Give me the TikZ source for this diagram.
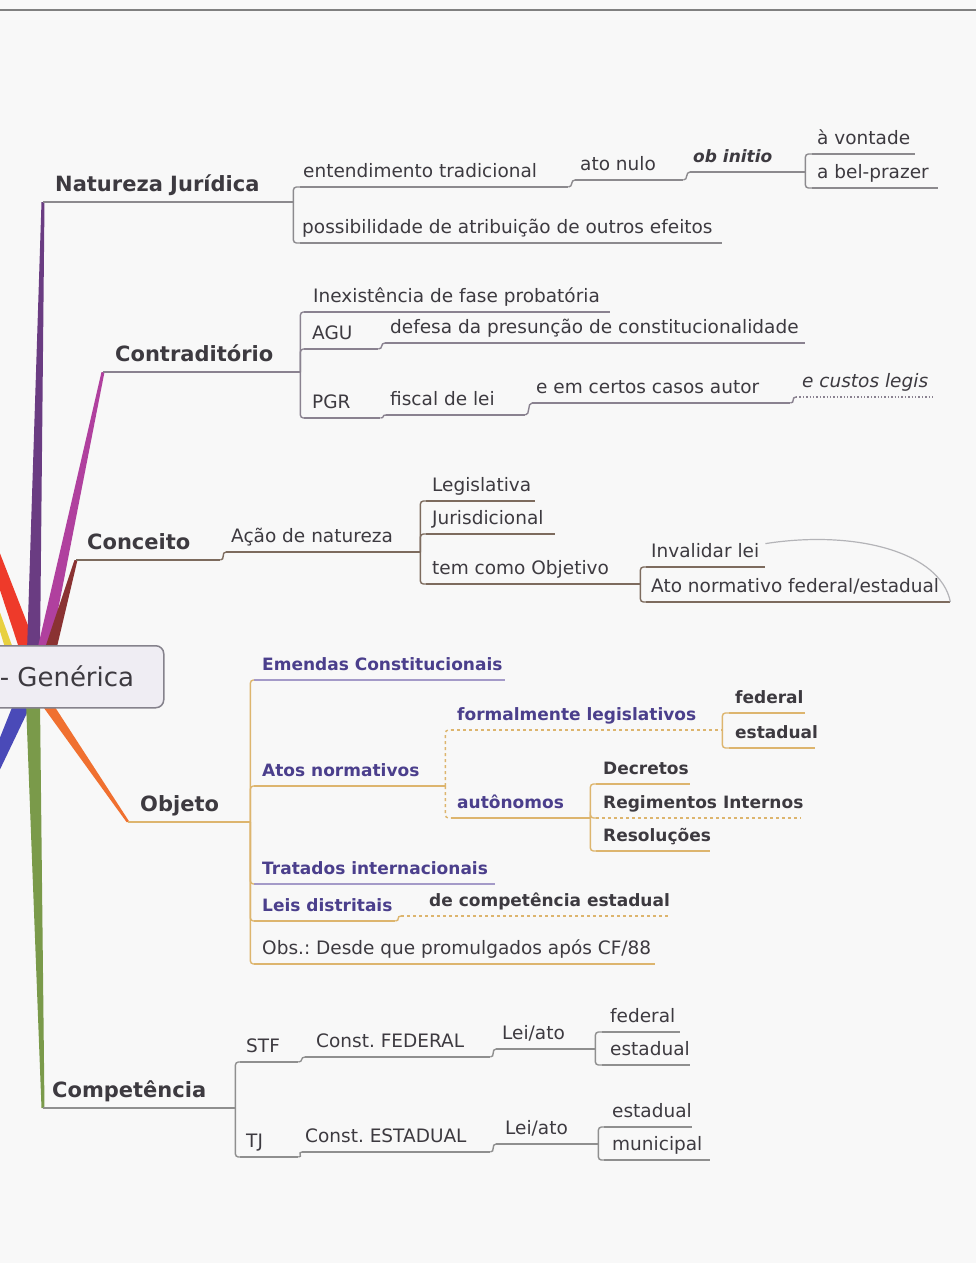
\documentclass[tikz,border=0pt]{standalone}
\usepackage{fontspec}
\setmainfont{DejaVu Sans}
\usetikzlibrary{calc,backgrounds}
\frenchspacing
\definecolor{bg}{HTML}{F8F8F8}
\definecolor{txt}{HTML}{3D3A40}
\definecolor{pur}{HTML}{4B3F8C}
\definecolor{gN}{HTML}{8C8A8E}
\definecolor{gC}{HTML}{8A8290}
\definecolor{gK}{HTML}{7D6B5E}
\definecolor{tanc}{HTML}{DDB56E}
\definecolor{lav}{HTML}{A49AC8}
\definecolor{gP}{HTML}{8F8F8F}
\definecolor{rootf}{HTML}{EFEDF3}
\definecolor{rootd}{HTML}{85828C}
\definecolor{relc}{HTML}{B4B4B8}
\definecolor{cRed}{HTML}{EE3A2A}
\definecolor{cYel}{HTML}{E8D040}
\definecolor{cPur}{HTML}{6A3C82}
\definecolor{cMag}{HTML}{B0409E}
\definecolor{cBrn}{HTML}{8A3232}
\definecolor{cBlu}{HTML}{4A4AB8}
\definecolor{cGrn}{HTML}{7A9A4A}
\definecolor{cOrg}{HTML}{F07030}
\newcommand\fnorm{\fontsize{18.5}{22}\selectfont}
\newcommand\ftitle{\fontsize{21}{25}\selectfont\bfseries}
\newcommand\fobj{\fontsize{17}{20}\selectfont\bfseries}
\newcommand\froot{\fontsize{26}{30}\selectfont}
\newcommand\lbx[3]{\hbox to #1pt{\hskip #2pt\relax #3\hss}}
\tikzset{
  tb/.style={anchor=south west, inner sep=0pt, text height=14pt, text depth=9pt, text=txt, font=\fnorm},
  ttl/.style={tb, font=\ftitle, text height=16pt, text depth=10pt},
  pb/.style={tb, font=\fobj, text=pur},
  ul/.style={append after command={(\tikzlastnode.south west) edge[line width=1.4pt, draw=#1] (\tikzlastnode.south east)}},
  br/.style={draw=#1, line width=1.4pt, rounded corners=3pt},
}
\begin{document}
\begin{tikzpicture}[x=1pt,y=-1pt]
\useasboundingbox (0,0) rectangle (976,1263);
% root
\node[draw=rootd, fill=rootf, rounded corners=8pt, line width=1.5pt, minimum width=183pt, minimum height=62pt, anchor=north west, inner sep=0pt, font=\froot, text=txt] (root) at (-20,645) {\lbx{183}{19}{- Genérica}};
% Natureza Juridica
\node[ttl, ul=gN] (nat) at (43,202) {\lbx{250}{12}{Natureza Jurídica}};
\node[tb, ul=gN] (ent) at (300,187) {\lbx{268}{3}{entendimento tradicional}};
\node[tb, ul=gN] (pos) at (300,243) {\lbx{422}{2}{possibilidade de atribuição de outros efeitos}};
\node[tb, ul=gN] (nulo) at (575,180) {\lbx{108}{5}{ato nulo}};
\node[tb, ul=gN, font=\fobj\itshape] (ini) at (690,172) {\lbx{115}{3}{ob initio}};
\node[tb, ul=gN] (von) at (812,154) {\lbx{103}{5}{à vontade}};
\node[tb, ul=gN] (bel) at (812,188) {\lbx{126}{5}{a bel-prazer}};
% Contraditorio
\node[ttl, ul=gC] (con) at (103,372) {\lbx{197}{12}{Contraditório}};
\node[tb, ul=gC] (inex) at (304,312) {\lbx{306}{9}{Inexistência de fase probatória}};
\node[tb, ul=gC] (agu) at (304,349) {\lbx{74}{8}{AGU}};
\node[tb, ul=gC] (def) at (385,343) {\lbx{420}{5}{defesa da presunção de constitucionalidade}};
\node[tb, ul=gC] (pgr) at (304,418) {\lbx{76}{8}{PGR}};
\node[tb, ul=gC] (fis) at (386,415) {\lbx{139}{4}{fiscal de lei}};
\node[tb, ul=gC] (cert) at (532,403) {\lbx{258}{4}{e em certos casos autor}};
\node[tb, ul={gC, dotted}, font=\fnorm\itshape] (cust) at (796,397) {\lbx{136}{6}{e custos legis}};
% Conceito
\node[ttl, ul=gK] (cct) at (76,560) {\lbx{144}{11}{Conceito}};
\node[tb, ul=gK] (acao) at (226,552) {\lbx{194}{5}{Ação de natureza}};
\node[tb, ul=gK] (leg) at (426,501) {\lbx{109}{6}{Legislativa}};
\node[tb, ul=gK] (jur) at (426,534) {\lbx{129}{6}{Jurisdicional}};
\node[tb, ul=gK] (tem) at (426,584) {\lbx{214}{6}{tem como Objetivo}};
\node[tb, ul=gK] (inv) at (646,567) {\lbx{119}{5}{Invalidar lei}};
\node[tb, ul=gK] (ato) at (646,602) {\lbx{304}{5}{Ato normativo federal/estadual}};
% Objeto
\node[ttl, ul=tanc] (obj) at (128,822) {\lbx{122}{12}{Objeto}};
\node[pb, ul=lav] (emen) at (254,680) {\lbx{251}{8}{Emendas Constitucionais}};
\node[pb, ul=tanc] (atos) at (254,786) {\lbx{191}{8}{Atos normativos}};
\node[pb, ul={tanc,dashed}] (form) at (451,730) {\lbx{271}{6}{formalmente legislativos}};
\node[pb, text=txt, ul=tanc] (fed1) at (729,713) {\lbx{76}{6}{federal}};
\node[pb, text=txt, ul=tanc] (est1) at (729,748) {\lbx{86}{6}{estadual}};
\node[pb, ul=tanc] (aut) at (451,818) {\lbx{139}{6}{autônomos}};
\node[pb, text=txt, ul=tanc] (dec) at (596,784) {\lbx{94}{7}{Decretos}};
\node[pb, text=txt, ul={tanc,dashed}] (reg) at (596,818) {\lbx{204}{7}{Regimentos Internos}};
\node[pb, text=txt, ul=tanc] (res) at (596,851) {\lbx{114}{7}{Resoluções}};
\node[pb, ul=lav] (trat) at (254,884) {\lbx{241}{8}{Tratados internacionais}};
\node[pb, ul=tanc] (leis) at (254,921) {\lbx{141}{8}{Leis distritais}};
\node[pb, text=txt, ul={tanc,dashed}] (comp) at (401,916) {\lbx{267}{28}{de competência estadual}};
\node[tb, ul=tanc] (obs) at (254,964) {\lbx{401}{8}{Obs.: Desde que promulgados após CF/88}};
% Competencia
\node[ttl, ul=gP] (cmp) at (43,1108) {\lbx{192}{9}{Competência}};
\node[tb, ul=gP] (stf) at (240,1062) {\lbx{58}{6}{STF}};
\node[tb, ul=gP] (cfed) at (305,1057) {\lbx{185}{11}{Const. FEDERAL}};
\node[tb, ul=gP] (la1) at (496,1049) {\lbx{99}{6}{Lei/ato}};
\node[tb, ul=gP] (f2) at (602,1032) {\lbx{78}{8}{federal}};
\node[tb, ul=gP] (e2) at (602,1065) {\lbx{88}{8}{estadual}};
\node[tb, ul=gP] (tj) at (240,1157) {\lbx{58}{6}{TJ}};
\node[tb, ul=gP] (cest) at (302,1152) {\lbx{188}{3}{Const. ESTADUAL}};
\node[tb, ul=gP] (la2) at (496,1144) {\lbx{102}{9}{Lei/ato}};
\node[tb, ul=gP] (e3) at (604,1127) {\lbx{88}{8}{estadual}};
\node[tb, ul=gP] (mun) at (604,1160) {\lbx{106}{8}{municipal}};
% connectors: Natureza
\draw[br=gN] (nat.south east) |- (ent.south west);
\draw[br=gN] (nat.south east) |- (pos.south west);
\draw[br=gN] (ent.south east) .. controls +(5,0) and +(-5,0) .. (nulo.south west);
\draw[br=gN] (nulo.south east) .. controls +(5,0) and +(-5,0) .. (ini.south west);
\draw[br=gN] (ini.south east) |- (von.south west);
\draw[br=gN] (ini.south east) |- (bel.south west);
% Contraditorio
\draw[br=gC] (con.south east) |- (inex.south west);
\draw[br=gC] (con.south east) |- (agu.south west);
\draw[br=gC] (con.south east) |- (pgr.south west);
\draw[br=gC] (agu.south east) .. controls +(5,0) and +(-5,0) .. (def.south west);
\draw[br=gC] (pgr.south east) .. controls +(5,0) and +(-5,0) .. (fis.south west);
\draw[br=gC] (fis.south east) .. controls +(5,0) and +(-5,0) .. (cert.south west);
\draw[br=gC] (cert.south east) .. controls +(5,0) and +(-5,0) .. (cust.south west);
% Conceito
\draw[br=gK] (cct.south east) .. controls +(5,0) and +(-5,0) .. (acao.south west);
\draw[br=gK] (acao.south east) |- (leg.south west);
\draw[br=gK] (acao.south east) |- (jur.south west);
\draw[br=gK] (acao.south east) |- (tem.south west);
\draw[br=gK] (tem.south east) |- (inv.south west);
\draw[br=gK] (tem.south east) |- (ato.south west);
\draw[relc, line width=1.2pt] (inv.north east) .. controls +(90,-14) and +(-10,-50) .. (ato.south east);
% Objeto
\draw[br=tanc] (obj.south east) |- (emen.south west);
\draw[br=tanc] (obj.south east) |- (atos.south west);
\draw[br=tanc] (obj.south east) |- (trat.south west);
\draw[br=tanc] (obj.south east) |- (leis.south west);
\draw[br=tanc] (obj.south east) |- (obs.south west);
\draw[br=tanc, dashed] (atos.south east) |- (form.south west);
\draw[br=tanc, dashed] (atos.south east) |- (aut.south west);
\draw[br=tanc] (form.south east) |- (fed1.south west);
\draw[br=tanc] (form.south east) |- (est1.south west);
\draw[br=tanc] (aut.south east) |- (dec.south west);
\draw[br=tanc] (aut.south east) |- (reg.south west);
\draw[br=tanc] (aut.south east) |- (res.south west);
\draw[br=tanc] (leis.south east) .. controls +(5,0) and +(-5,0) .. (comp.south west);
% Competencia
\draw[br=gP] (cmp.south east) |- (stf.south west);
\draw[br=gP] (cmp.south east) |- (tj.south west);
\draw[br=gP] (stf.south east) .. controls +(5,0) and +(-5,0) .. (cfed.south west);
\draw[br=gP] (cfed.south east) .. controls +(5,0) and +(-5,0) .. (la1.south west);
\draw[br=gP] (la1.south east) |- (f2.south west);
\draw[br=gP] (la1.south east) |- (e2.south west);
\draw[br=gP] (tj.south east) .. controls +(5,0) and +(-5,0) .. (cest.south west);
\draw[br=gP] (cest.south east) .. controls +(5,0) and +(-5,0) .. (la2.south west);
\draw[br=gP] (la2.south east) |- (e3.south west);
\draw[br=gP] (la2.south east) |- (mun.south west);
% background and main branches
\begin{pgfonlayer}{background}
\fill[bg] (0,0) rectangle (976,1263);
\draw[gray, line width=2pt] (0,10) -- (976,10);
\coordinate (offY) at (-12,585);
\coordinate (offR) at (-18,520);
\coordinate (offB) at (-22,805);
\fill[cYel] ($(root.north west)+(26,6)$) -- ($(root.north west)+(34,6)$) -- ($(offY)+(2,0)$) -- ($(offY)+(-2,0)$) -- cycle;
\fill[cRed] ($(root.north west)+(40,6)$) -- ($(root.north west)+(58,6)$) -- ($(offR)+(5,0)$) -- ($(offR)+(-5,0)$) -- cycle;
\fill[cBlu] ($(root.south west)+(34,-6)$) -- ($(root.south west)+(52,-6)$) -- ($(offB)+(5,0)$) -- ($(offB)+(-5,0)$) -- cycle;
\fill[cPur] ($(root.north west)+(47,6)$) -- ($(root.north west)+(60,6)$) -- ($(nat.south west)+(1.5,0)$) -- ($(nat.south west)+(-1.5,0)$) -- cycle;
\fill[cMag] ($(root.north west)+(57,6)$) -- ($(root.north west)+(70,6)$) -- ($(con.south west)+(1.5,0)$) -- ($(con.south west)+(-1.5,0)$) -- cycle;
\fill[cBrn] ($(root.north west)+(64,6)$) -- ($(root.north west)+(76,6)$) -- ($(cct.south west)+(1.5,0)$) -- ($(cct.south west)+(-1.5,0)$) -- cycle;
\fill[cGrn] ($(root.south west)+(46,-6)$) -- ($(root.south west)+(60,-6)$) -- ($(cmp.south west)+(1.5,0)$) -- ($(cmp.south west)+(-1.5,0)$) -- cycle;
\fill[cOrg] ($(root.south west)+(60,-6)$) -- ($(root.south west)+(72,-6)$) -- ($(obj.south west)+(1.5,0)$) -- ($(obj.south west)+(-1.5,0)$) -- cycle;
\end{pgfonlayer}
\end{tikzpicture}
\end{document}
